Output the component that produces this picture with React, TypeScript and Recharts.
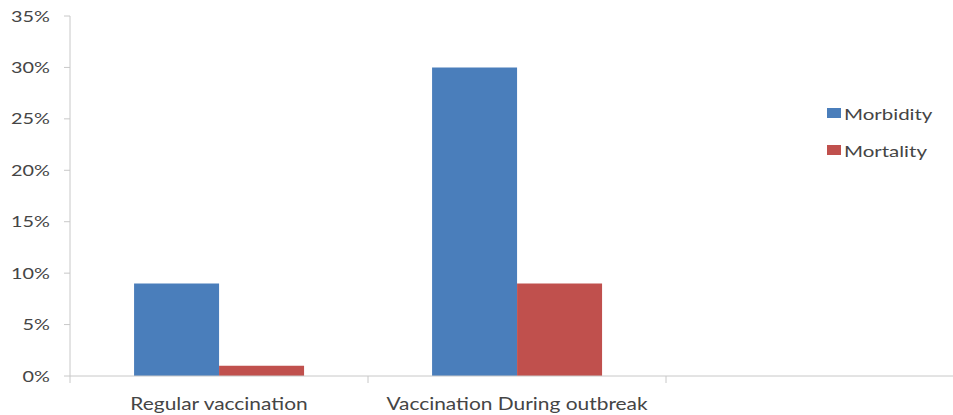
import React from "react";
import { BarChart, Bar, XAxis, YAxis, Legend } from "recharts";

const categories = ["Regular vaccination", "Vaccination During outbreak", ""];
const morbidity = [9, 30, null];
const mortality = [1, 9, null];
const yTicks = [0, 5, 10, 15, 20, 25, 30, 35];

const data = categories.map((name, i) => ({
  name,
  Morbidity: morbidity[i],
  Mortality: mortality[i],
}));

const FONT = "Lato, 'Open Sans', sans-serif";
const AXIS_COLOR = "#c8c8c8";
const TEXT_COLOR = "#454545";
const STRETCH = 1.28;

const XTick = (props: any) => {
  const { x, y, payload, index, visibleTicksCount } = props;
  const half = payload && payload.offset ? payload.offset : 149;
  const axisY = y - 8;
  const isLast = index === (visibleTicksCount ?? 3) - 1;
  return (
    <g>
      <line x1={x - half} x2={x - half} y1={axisY} y2={axisY + 7} stroke={AXIS_COLOR} />
      {isLast && (
        <line x1={x + half} x2={x + half} y1={axisY} y2={axisY + 7} stroke={AXIS_COLOR} />
      )}
      <text
        transform={`translate(${x},${axisY + 34}) scale(1.23,1)`}
        textAnchor="middle"
        fill={TEXT_COLOR}
        fontSize={17}
        fontFamily={FONT}
      >
        {payload.value}
      </text>
    </g>
  );
};

const YTick = (props: any) => {
  const { x, y, payload } = props;
  return (
    <text
      transform={`translate(${x},${y}) scale(${STRETCH},1)`}
      dy="0.36em"
      textAnchor="end"
      fill={TEXT_COLOR}
      fontSize={15.5}
      fontFamily={FONT}
    >
      {`${payload.value}%`}
    </text>
  );
};

const LegendContent = (props: any) => {
  const { payload } = props;
  return (
    <div style={{ fontFamily: FONT }}>
      {(payload || []).map((p: any, i: number) => (
        <div
          key={i}
          style={{
            display: "flex",
            alignItems: "center",
            height: 20,
            marginBottom: 17,
            color: TEXT_COLOR,
            fontSize: 16,
            whiteSpace: "nowrap",
          }}
        >
          <span
            style={{
              display: "inline-block",
              width: 14,
              height: 10,
              background: p.color,
              marginRight: 3,
            }}
          />
          <span
            style={{
              display: "inline-block",
              transform: `scaleX(${STRETCH})`,
              transformOrigin: "left center",
            }}
          >
            {p.value}
          </span>
        </div>
      ))}
    </div>
  );
};

export default function App() {
  return (
    <div
      style={{
        width: 953,
        height: 415,
        overflow: "hidden",
        background: "#fff",
        position: "relative",
      }}
    >
      <style>{`html, body { margin: 0; padding: 0; overflow: hidden; }`}</style>
      <div style={{ position: "absolute", left: 8, top: 0 }}>
        <BarChart
          width={960}
          height={415}
          data={data}
          margin={{ top: 16, right: 4, bottom: 9, left: 0 }}
          barCategoryGap="21.5%"
          barGap={0}
        >
          <YAxis
            width={62}
            domain={[0, 35]}
            ticks={yTicks}
            interval={0}
            axisLine={{ stroke: AXIS_COLOR }}
            tickLine={{ stroke: AXIS_COLOR }}
            tickSize={6}
            tickMargin={14}
            tick={<YTick />}
          />
          <XAxis
            dataKey="name"
            height={30}
            interval={0}
            axisLine={{ stroke: AXIS_COLOR }}
            tickLine={false}
            tick={<XTick />}
          />
          <Legend
            layout="vertical"
            align="center"
            verticalAlign="middle"
            content={<LegendContent />}
            wrapperStyle={{ left: 819, top: 103, width: 130, height: 80 }}
          />
          <Bar dataKey="Morbidity" fill="#4A7EBB" isAnimationActive={false} />
          <Bar dataKey="Mortality" fill="#C0504D" isAnimationActive={false} />
        </BarChart>
      </div>
    </div>
  );
}
